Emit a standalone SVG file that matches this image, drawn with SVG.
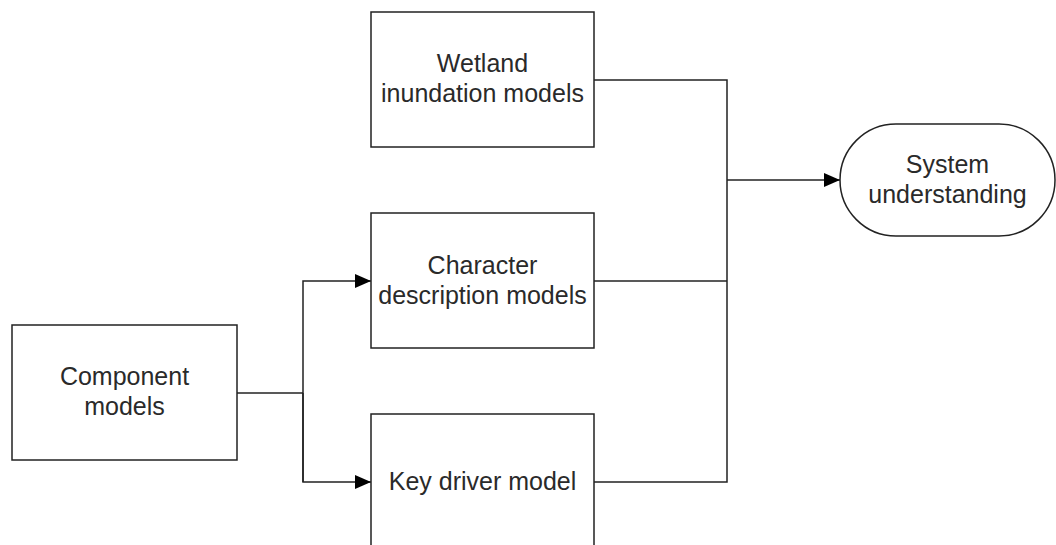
<svg xmlns="http://www.w3.org/2000/svg" width="1056" height="545" viewBox="0 0 1056 545">
<style>
.box{fill:#fff;stroke:#222;stroke-width:1.5}
.lbl{font-family:"Liberation Sans",Arial,sans-serif;font-size:25px;fill:#2a2a2a;text-anchor:middle}
.con{fill:none;stroke:#222;stroke-width:1.5}
</style>
<defs>
<marker id="arr" markerWidth="16" markerHeight="14" refX="16" refY="7" orient="auto" markerUnits="userSpaceOnUse">
<path d="M0,0 L16,7 L0,14 Z" fill="#000"/>
</marker>
</defs>
<rect width="1056" height="545" fill="#fff"/>
<g id="connectors">
<path class="con" d="M237,393 H303"/>
<path class="con" d="M303,482 V281 H371" marker-end="url(#arr)"/>
<path class="con" d="M303,393 V482 H371" marker-end="url(#arr)"/>
<path class="con" d="M594,80 H727 V482 H594"/>
<path class="con" d="M594,281 H727"/>
<path class="con" d="M727,180 H840" marker-end="url(#arr)"/>
</g>
<g id="wetland">
<rect class="box" x="371" y="12" width="223" height="135"/>
<text class="lbl" x="482.5" y="72">Wetland</text>
<text class="lbl" x="482.5" y="102">inundation models</text>
</g>
<g id="character">
<rect class="box" x="371" y="213" width="223" height="135"/>
<text class="lbl" x="482.5" y="274">Character</text>
<text class="lbl" x="482.5" y="304">description models</text>
</g>
<g id="keydriver">
<path class="box" d="M371,560 V414 H594 V560"/>
<text class="lbl" x="482.5" y="490">Key driver model</text>
</g>
<g id="component">
<rect class="box" x="12" y="325" width="225" height="135"/>
<text class="lbl" x="124.5" y="385">Component</text>
<text class="lbl" x="124.5" y="415">models</text>
</g>
<g id="system">
<rect class="box" x="840" y="124" width="215" height="112" rx="56" ry="56"/>
<text class="lbl" x="947.5" y="173">System</text>
<text class="lbl" x="947.5" y="203">understanding</text>
</g>
</svg>
